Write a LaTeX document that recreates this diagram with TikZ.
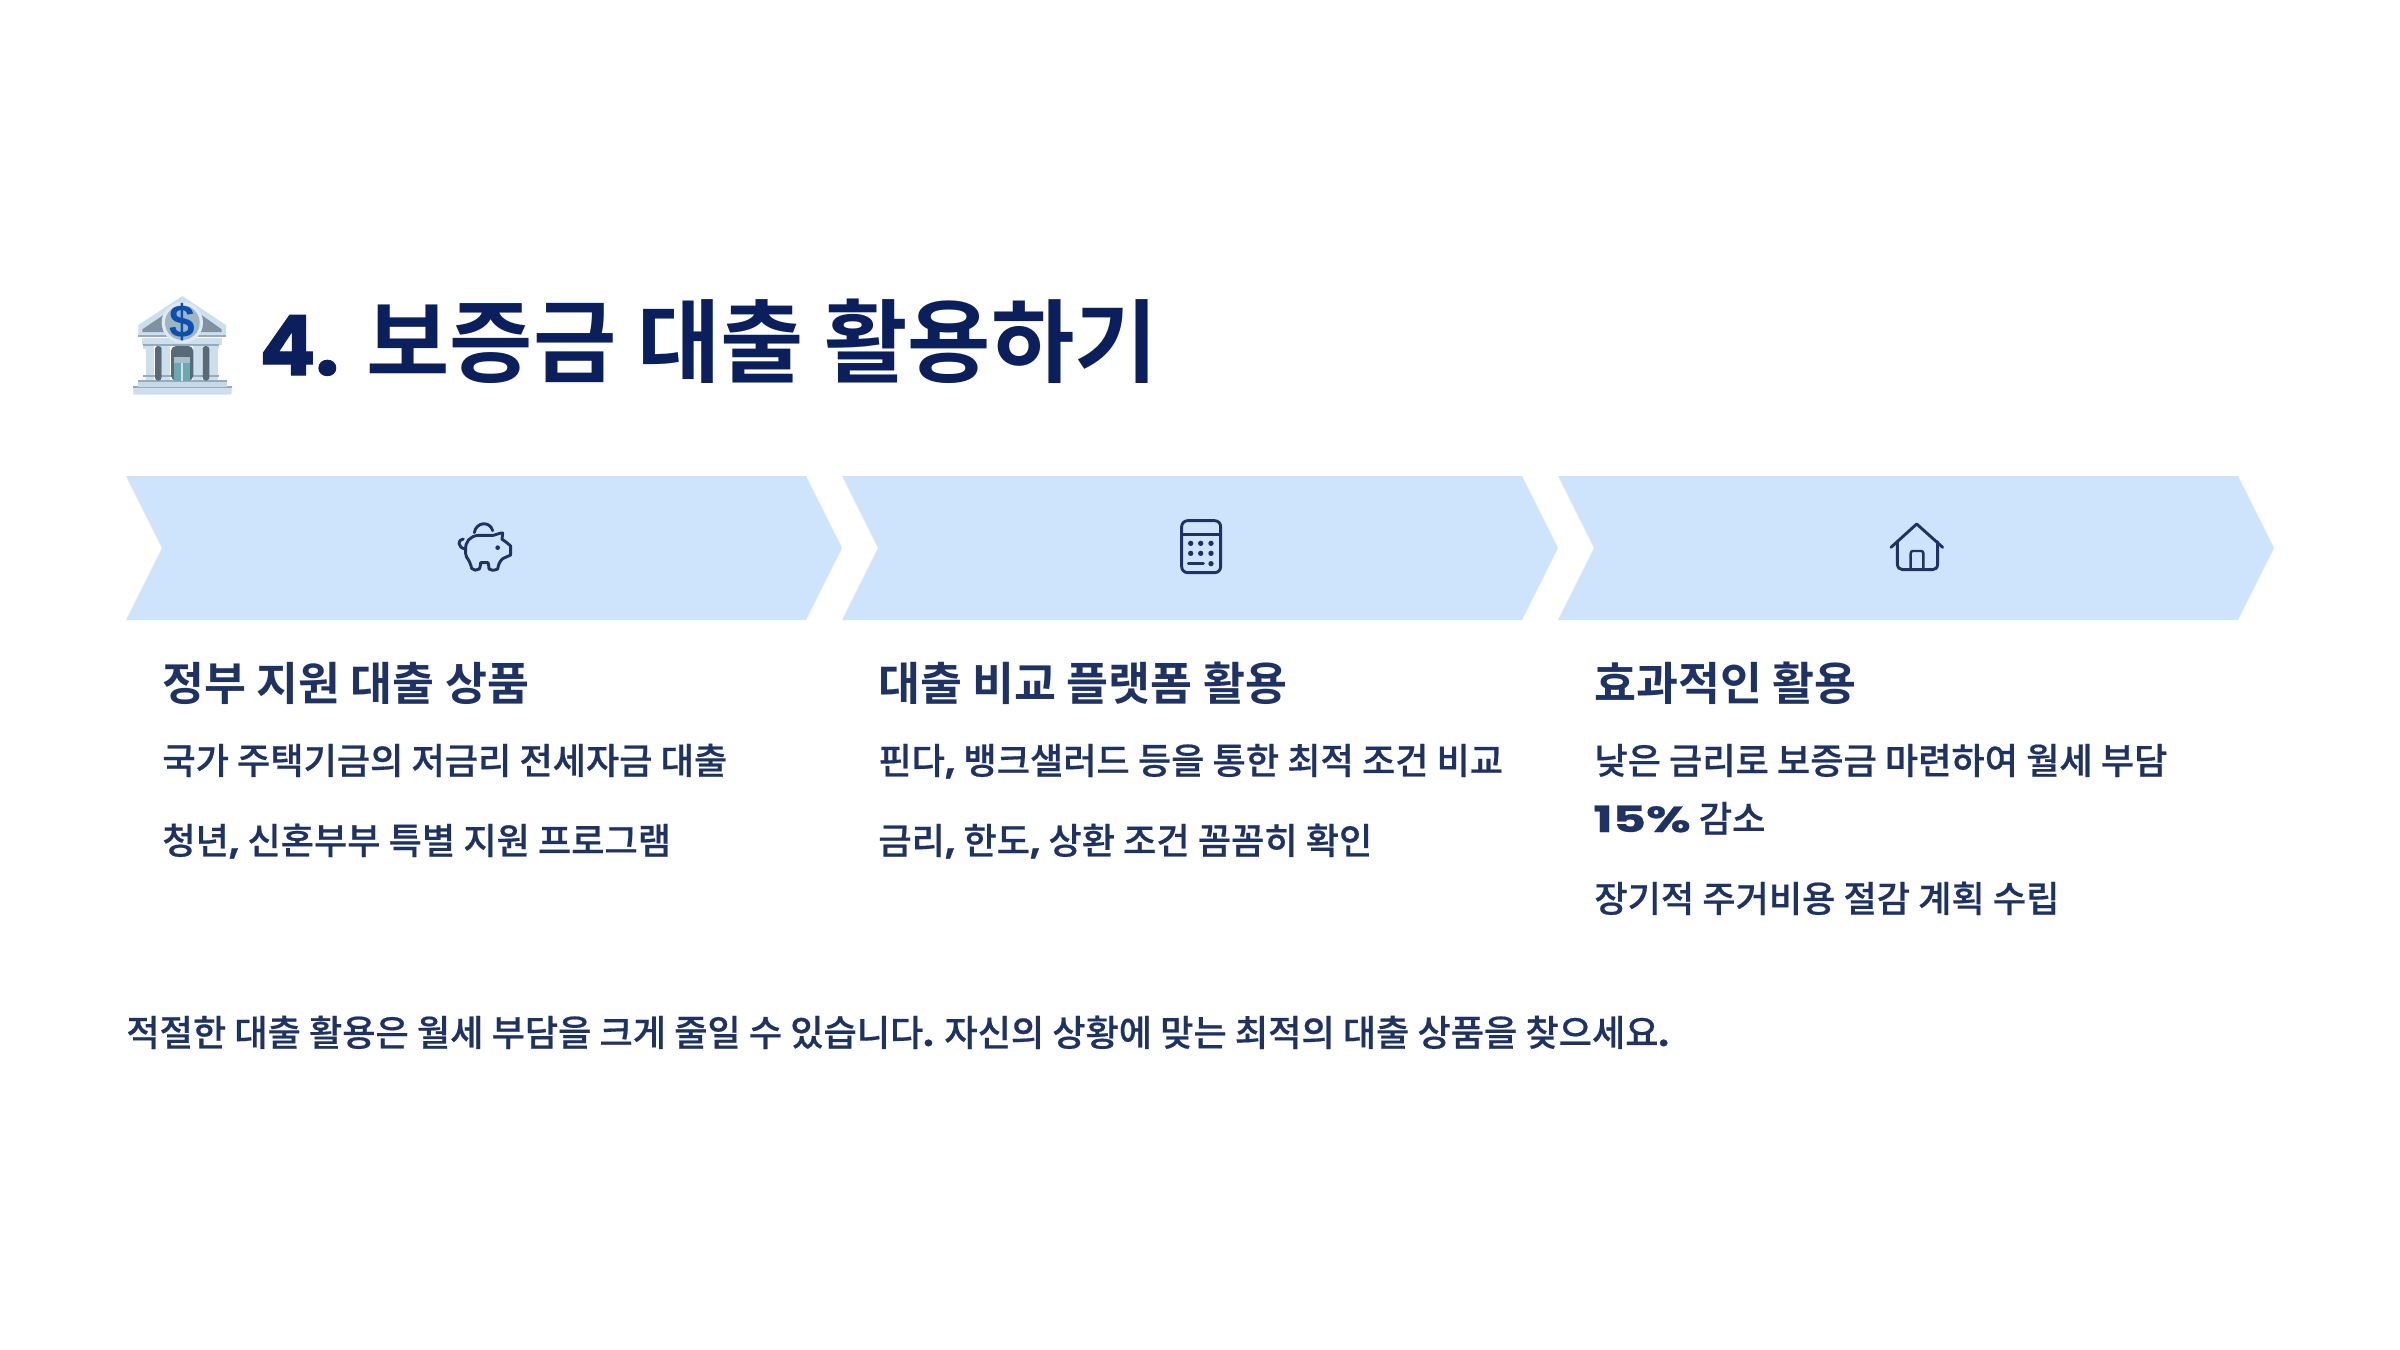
\documentclass[tikz,border=0pt]{standalone}
\usepackage{fontspec}
\setmainfont{Noto Sans CJK KR}
\newfontfamily\krb{Noto Sans CJK KR Bold}
\newfontfamily\krm{Noto Sans CJK KR Medium}[FakeBold=0.5]
\newfontfamily\lat{Poppins Bold}[FakeStretch=1.42,FakeBold=0.7]
\newfontfamily\lata{Poppins Bold}[FakeBold=1.2]
\definecolor{titlec}{HTML}{0A1F5C}
\definecolor{textc}{HTML}{1E3264}
\definecolor{chev}{HTML}{CEE4FD}
\definecolor{bkl}{RGB}{205,222,236}
\definecolor{bkm}{RGB}{150,172,188}
\definecolor{bkd}{RGB}{88,105,120}
\tikzset{
 chevron/.style={fill=chev,draw=none},
 txt/.style={anchor=base west,inner sep=0pt,text=textc},
 titletxt/.style={txt,text=titlec,font=\krb\fontsize{45.3}{54}\selectfont},
 headtxt/.style={txt,font=\krb\fontsize{22.8}{28}\selectfont},
 bodytxt/.style={txt,font=\krm\fontsize{18.08}{22}\selectfont},
 icon/.style={draw=textc,line width=1.45pt,line cap=round,line join=round,fill=none},
 dotf/.style={fill=textc,draw=none},
 zoomed/.style={shift={#1},x=0.16667pt,y=-0.16667pt},
}
\newcommand{\lb}[1]{{\fontspec{Poppins Bold}[FakeBold=0.8]#1}}
\begin{document}
\begin{tikzpicture}[x=0.5pt,y=-0.5pt]
\useasboundingbox (0,0) rectangle (2400,1350);
\fill[white] (0,0) rectangle (2400,1350);
% chevrons
\foreach \n/\dx in {a/0,b/716,c/1432}{
 \fill[chevron,shift={(\dx,0)}] (126,476) -- (806,476) -- (842,548) -- (806,620) -- (126,620) -- (162,548) -- cycle;
}
% bank emoji
\begin{scope}[zoomed={(110,270)}]
 \fill[bkl,rounded corners=0.6pt] (70,350) rectangle (365,374);
 \fill[bkm] (70,347) rectangle (365,354);
 \fill[bkl!90!bkm] (85,333) rectangle (350,350);
 \fill[bkm] (85,330) rectangle (350,336);
 \fill[bkl] (97,205) rectangle (335,225);
 \fill[bkl] (107,235) rectangle (133,330);
 \fill[bkl] (155,235) rectangle (181,330);
 \fill[bkl] (250,235) rectangle (276,330);
 \fill[bkl] (298,235) rectangle (324,330);
 \fill[bkm] (100,222) rectangle (328,228);
 \fill[bkm] (100,316) rectangle (328,322);
 \fill[bkl] (100,228) rectangle (133,238);
 \fill[bkl] (150,228) rectangle (181,238);
 \fill[bkl] (250,228) rectangle (283,238);
 \fill[bkl] (295,228) rectangle (328,238);
 \fill[bkd,rounded corners=1.5pt] (135,228) rectangle (155,332);
 \fill[bkd,rounded corners=1.5pt] (278,228) rectangle (298,332);
 \fill[bkd,rounded corners=2.5pt] (183,228) rectangle (250,332);
 \fill[color={rgb,255:red,170;green,190;blue,202}] (193,262) rectangle (241,280);
 \fill[color={rgb,255:red,108;green,168;blue,178}] (193,280) rectangle (241,332);
 \fill[bkl] (214,280) rectangle (219,332);
 \fill[bkl] (217,78) -- (348,165) -- (348,195) -- (85,195) -- (85,165) -- cycle;
 \fill[bkm] (85,195) rectangle (348,202);
 \fill[color={rgb,255:red,128;green,146;blue,160}] (165,132) -- (97,178) -- (97,186) -- (165,186) -- cycle;
 \fill[color={rgb,255:red,128;green,146;blue,160}] (270,132) -- (335,178) -- (335,186) -- (270,186) -- cycle;
 \fill[color={rgb,255:red,222;green,233;blue,243}] (217,158) circle[radius=62];
 \fill[color={rgb,255:red,158;green,181;blue,195}] (217,158) circle[radius=52];
 \node[inner sep=0pt,text={rgb,255:red,11;green,80;blue,176},font=\fontspec{Liberation Sans Bold}\fontsize{23}{23}\selectfont] (dollar) at (217,156) {\$};
\end{scope}
% title
\node[titletxt] (title) at (259,375) {{\lata\fontsize{41.5}{54}\selectfont 4.} 보증금 대출 활용하기};
% icons
\begin{scope}[zoomed={(420,500)}]
 \draw[icon] (137,150) .. controls (135,125) and (150,108) .. (175,106) -- (220,106) .. controls (230,104) and (240,98) .. (248,99) -- (246,118) .. controls (258,125) and (265,132) .. (272,138) -- (272,165) -- (248,176) .. controls (238,185) and (235,195) .. (233,207) .. controls (222,212) and (212,212) .. (207,207) .. controls (207,198) and (205,190) .. (204,188) -- (182,188) .. controls (182,195) and (180,203) .. (178,207) .. controls (170,212) and (160,212) .. (155,205) .. controls (152,190) and (145,178) .. (140,172) .. controls (137,165) and (136,158) .. (137,150);
 \draw[icon] (163,98) .. controls (168,65) and (210,62) .. (218,92);
 \draw[icon] (135,147) .. controls (112,142) and (112,118) .. (130,117);
 \fill[dotf] (233,143) circle[radius=7];
\end{scope}
\begin{scope}[zoomed={(1150,500)}]
 \draw[icon,rounded corners=3pt] (95,62) rectangle (212,218);
 \draw[icon] (95,103) -- (212,103);
 \foreach \xx in {122,152,183}{
  \fill[dotf] (\xx,130) circle[radius=8];
  \fill[dotf] (\xx,160) circle[radius=8];
 }
 \draw[icon] (115,191) -- (160,191);
 \fill[dotf] (183,191) circle[radius=8];
\end{scope}
\begin{scope}[zoomed={(1870,500)}]
 \draw[icon] (63,142) -- (140,72) -- (218,142);
 \draw[icon] (82,125) -- (82,192) .. controls (82,203) and (90,209) .. (98,209) -- (188,209) .. controls (196,209) and (203,203) .. (203,192) -- (203,125);
 \draw[icon,line width=1.2pt] (122,209) -- (122,160) .. controls (122,155) and (125,153) .. (128,153) -- (154,153) .. controls (158,153) and (160,156) .. (160,160) -- (160,209);
\end{scope}
% column 1
\node[headtxt] (h1) at (162,700) {정부 지원 대출 상품};
\node[bodytxt] (b11) at (162,774) {국가 주택기금의 저금리 전세자금 대출};
\node[bodytxt] (b12) at (162,854) {청년\lb{,} 신혼부부 특별 지원 프로그램};
% column 2
\node[headtxt] (h2) at (878,700) {대출 비교 플랫폼 활용};
\node[bodytxt] (b21) at (878,774) {핀다\lb{,} 뱅크샐러드 등을 통한 최적 조건 비교};
\node[bodytxt] (b22) at (878,854) {금리\lb{,} 한도\lb{,} 상환 조건 꼼꼼히 확인};
% column 3
\node[headtxt] (h3) at (1594,700) {효과적인 활용};
\node[bodytxt] (b31) at (1594,774) {낮은 금리로 보증금 마련하여 월세 부담};
\node[bodytxt] (b32) at (1593,832) {{\lat 15\%} 감소};
\node[bodytxt] (b33) at (1594,912) {장기적 주거비용 절감 계획 수립};
% footer
\node[bodytxt] (foot) at (126,1046) {적절한 대출 활용은 월세 부담을 크게 줄일 수 있습니다\lb{.} 자신의 상황에 맞는 최적의 대출 상품을 찾으세요\lb{.}};
\end{tikzpicture}
\end{document}
